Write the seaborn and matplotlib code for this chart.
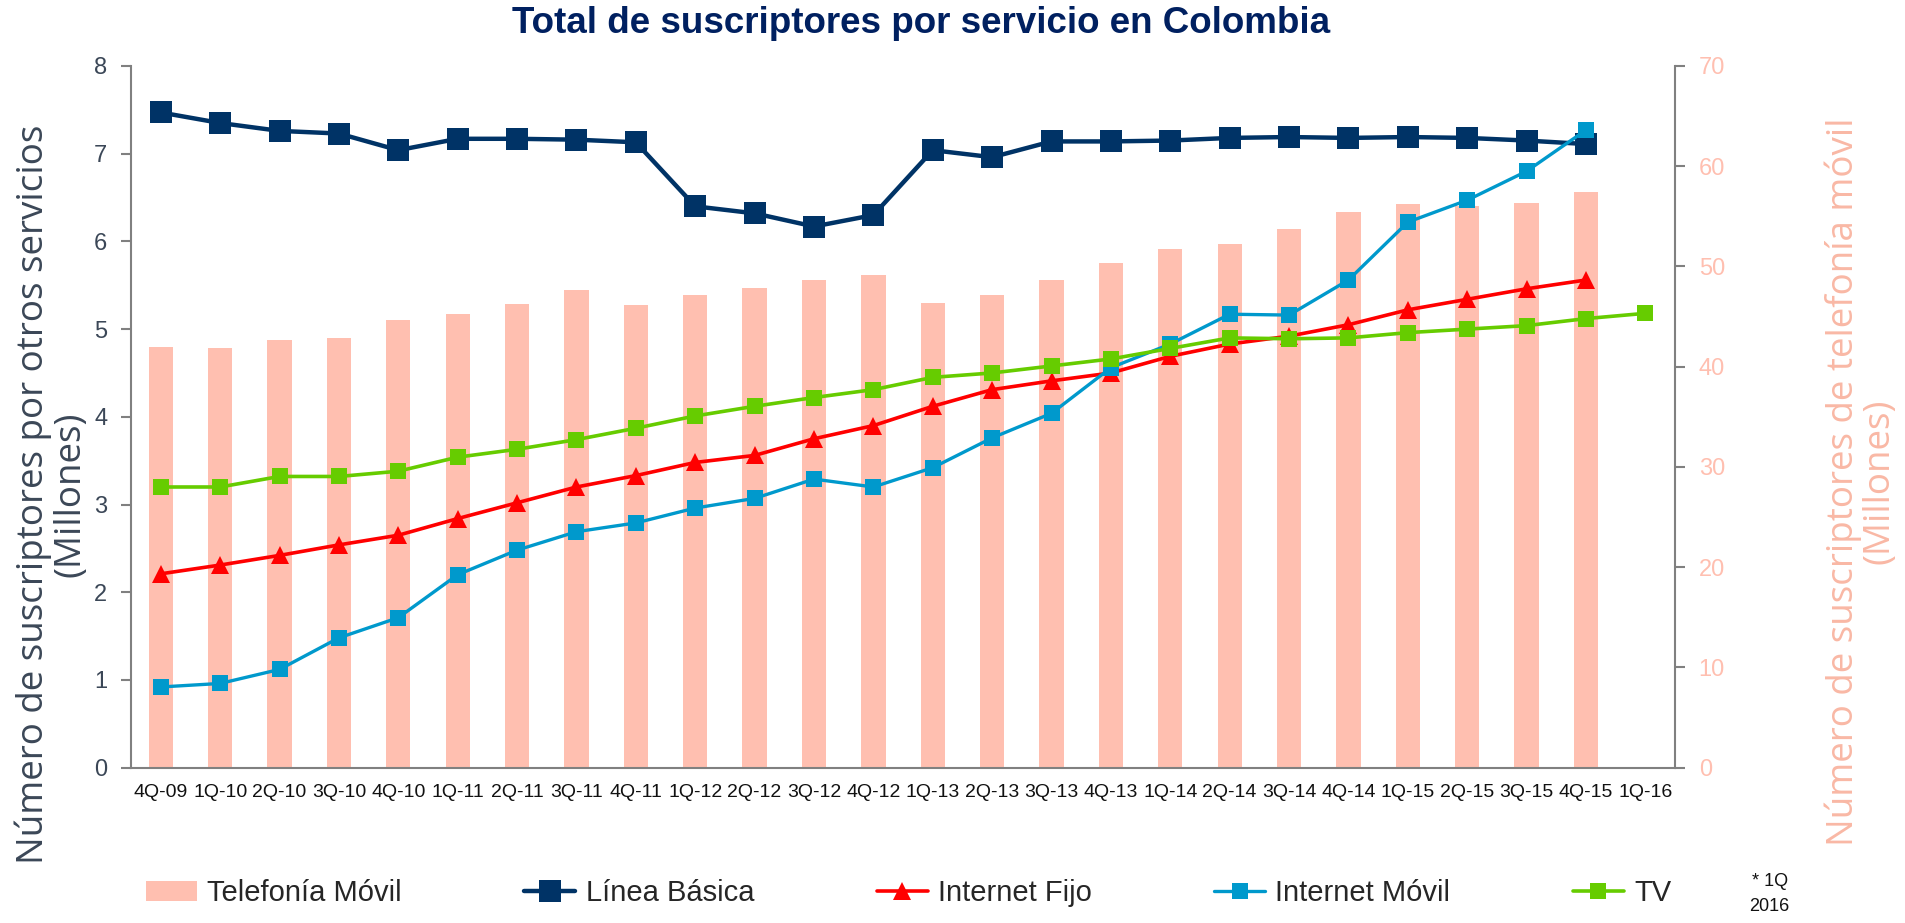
import numpy as np
import pandas as pd
import matplotlib
matplotlib.use("Agg")
import matplotlib.pyplot as plt
import seaborn as sns

# Datos (millones de suscriptores)
trimestres = ["4Q-09", "1Q-10", "2Q-10", "3Q-10", "4Q-10", "1Q-11", "2Q-11", "3Q-11",
              "4Q-11", "1Q-12", "2Q-12", "3Q-12", "4Q-12", "1Q-13", "2Q-13", "3Q-13",
              "4Q-13", "1Q-14", "2Q-14", "3Q-14", "4Q-14", "1Q-15", "2Q-15", "3Q-15",
              "4Q-15", "1Q-16"]

telefonia_movil = [42.0, 41.9, 42.7, 42.9, 44.7, 45.3, 46.3, 47.7, 46.2, 47.2, 47.9, 48.7, 49.1,
                   46.4, 47.2, 48.7, 50.3, 51.7, 52.2, 53.7, 55.4, 56.2, 56.0, 56.3, 57.4]
linea_basica = [7.47, 7.35, 7.26, 7.23, 7.04, 7.17, 7.17, 7.16, 7.13, 6.40, 6.32, 6.17, 6.30,
                7.04, 6.96, 7.14, 7.14, 7.15, 7.18, 7.19, 7.18, 7.19, 7.18, 7.15, 7.11]
internet_fijo = [2.21, 2.31, 2.42, 2.54, 2.65, 2.84, 3.02, 3.20, 3.33, 3.48, 3.56, 3.75, 3.90,
                 4.12, 4.31, 4.41, 4.50, 4.69, 4.83, 4.92, 5.05, 5.22, 5.34, 5.46, 5.56]
internet_movil = [0.92, 0.96, 1.12, 1.48, 1.71, 2.20, 2.48, 2.69, 2.79, 2.96, 3.07, 3.29, 3.20,
                  3.42, 3.76, 4.04, 4.56, 4.83, 5.17, 5.16, 5.56, 6.22, 6.47, 6.80, 7.27]
tv = [3.20, 3.20, 3.32, 3.32, 3.38, 3.54, 3.63, 3.74, 3.87, 4.01, 4.12, 4.22, 4.31,
      4.45, 4.50, 4.58, 4.66, 4.78, 4.90, 4.89, 4.90, 4.96, 5.00, 5.04, 5.12, 5.18]

# Estilo
sns.set_style("white")
plt.rcParams["font.family"] = ["Liberation Sans", "DejaVu Sans"]

color_barras = "#FFBFB0"
color_gris = "#808080"
color_eje_izq = "#3B4757"

fig = plt.figure(figsize=(19.05, 9.23), dpi=100)
ax = fig.add_axes([0.0688, 0.1683, 0.8105, 0.7602])
ax2 = ax.twinx()

# Barras: telefonía móvil en el eje derecho
df_movil = pd.DataFrame({"trimestre": trimestres[:len(telefonia_movil)],
                         "valor": telefonia_movil})
sns.barplot(data=df_movil, x="trimestre", y="valor", order=trimestres,
            color=color_barras, saturation=1, width=0.41, edgecolor="none", ax=ax2)

# Líneas en el eje izquierdo
series = [
    ("Línea Básica", linea_basica, "#003366", "s", 16, 3.2),
    ("Internet Fijo", internet_fijo, "#FF0000", "^", 13, 2.6),
    ("Internet Móvil", internet_movil, "#0099CC", "s", 11, 2.4),
    ("TV", tv, "#66CC00", "s", 11, 2.6),
]
for nombre, valores, color, marcador, tam, grosor in series:
    sns.lineplot(x=np.arange(len(valores)), y=valores, color=color, marker=marcador,
                 markersize=tam, linewidth=grosor, markeredgewidth=0,
                 label=nombre, legend=False, ax=ax)

# Lineas por encima de las barras
ax.set_zorder(ax2.get_zorder() + 1)
ax.patch.set_visible(False)

# Eje X
ax.set_xlim(-0.5, len(trimestres) - 0.5)
ax.set_xticks(np.arange(len(trimestres)))
ax.set_xticklabels(trimestres, fontsize=14, color="#111111")
ax.set_xticks(np.arange(-0.5, len(trimestres), 1), minor=True)
ax.tick_params(axis="x", which="major", length=0, pad=12)
ax.tick_params(axis="x", which="minor", length=8, width=1.5, color=color_gris, direction="out")
ax.set_xlabel("")

# Eje izquierdo
ax.set_ylim(0, 8)
ax.set_yticks(range(0, 9))
ax.tick_params(axis="y", length=7, width=1.5, color=color_gris, labelsize=17,
               labelcolor=color_eje_izq, pad=10, direction="out", left=True)
ax.set_ylabel("")

# Eje derecho
ax2.set_ylim(0, 70)
ax2.set_yticks(range(0, 71, 10))
ax2.tick_params(axis="y", length=7, width=1.5, color=color_gris, labelsize=17,
                labelcolor=color_barras, pad=10, direction="out", right=True)
ax2.set_ylabel("")

for lado in ["top", "right"]:
    ax.spines[lado].set_visible(False)
for lado in ["left", "bottom"]:
    ax.spines[lado].set_color(color_gris)
    ax.spines[lado].set_linewidth(1.5)
for lado in ["top", "left", "bottom"]:
    ax2.spines[lado].set_visible(False)
ax2.spines["right"].set_color(color_gris)
ax2.spines["right"].set_linewidth(1.5)

# Títulos y etiquetas
fig.text(0.4835, 0.975, "Total de suscriptores por servicio en Colombia",
         ha="center", va="center", fontsize=26.5, fontweight="bold", color="#002060")
fig.text(0.027, 0.464, "Número de suscriptores por otros servicios\n(Millones)",
         rotation=90, ha="center", va="center", multialignment="center",
         fontsize=26.5, color=color_eje_izq, family=["Open Sans", "DejaVu Sans"],
         linespacing=1.0)
fig.text(0.977, 0.478, "Número de suscriptores de telefonía móvil\n(Millones)",
         rotation=90, ha="center", va="center", multialignment="center",
         fontsize=26.5, color="#F9B8A5", family=["Open Sans", "DejaVu Sans"],
         linespacing=1.0)

# Leyenda
handles, labels = ax.get_legend_handles_labels()
handles = [ax2.patches[0]] + handles
labels = ["Telefonía Móvil"] + labels
fig.legend(handles, labels, loc="center left", bbox_to_anchor=(0.0766, 0.0325), ncol=5,
           frameon=False, fontsize=21, columnspacing=4.2, handletextpad=0.35,
           handlelength=1.75, borderpad=0, borderaxespad=0)

fig.text(0.929, 0.031, "* 1Q\n2016", ha="center", va="center", fontsize=13,
         color="#111111", linespacing=1.6)

plt.savefig("out.png", dpi=100)
